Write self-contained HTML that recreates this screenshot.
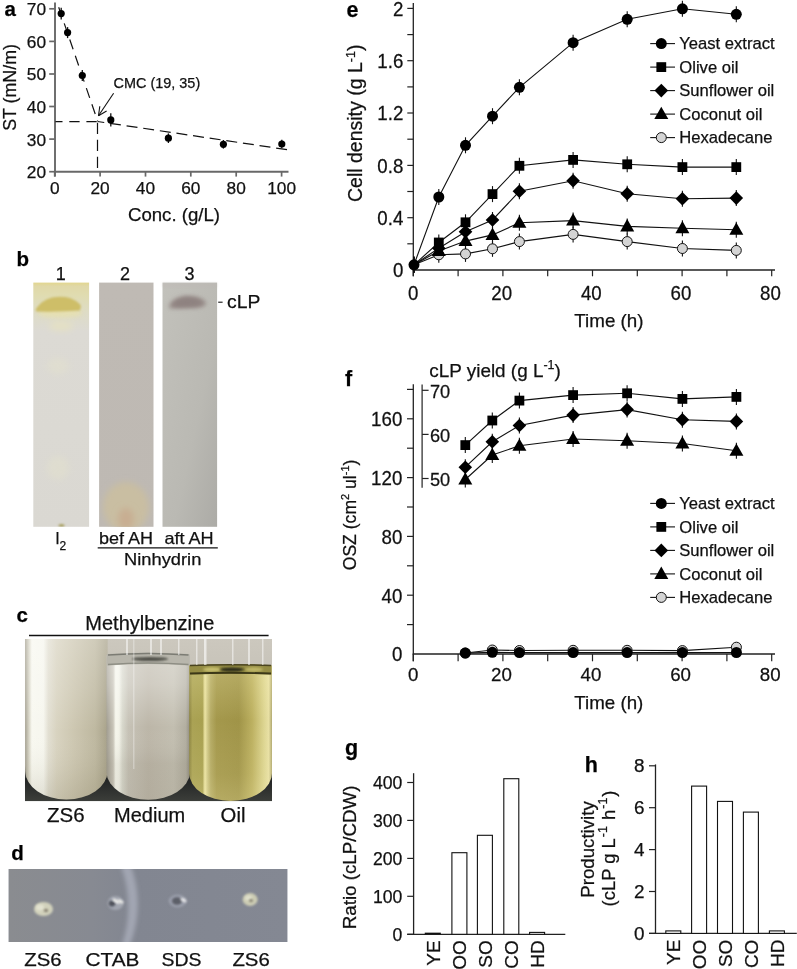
<!DOCTYPE html>
<html><head><meta charset="utf-8"><style>
html,body{margin:0;padding:0;background:#fff;}
svg{display:block;will-change:transform;}
text{font-family:"Liberation Sans", sans-serif;stroke:#111;stroke-width:0.25px;}
</style></head><body>
<svg width="797" height="969" viewBox="0 0 797 969" font-family='"Liberation Sans", sans-serif'>
<defs>
<linearGradient id="s1" x1="0" y1="0" x2="0" y2="1">
 <stop offset="0" stop-color="#e2d68e"/><stop offset="0.015" stop-color="#e0d8a8"/><stop offset="0.05" stop-color="#e0dcb0"/>
 <stop offset="0.12" stop-color="#dedcc6"/><stop offset="0.2" stop-color="#dcdad4"/><stop offset="1" stop-color="#dad8d2"/>
</linearGradient>
<linearGradient id="s2" x1="0" y1="0" x2="0" y2="1">
 <stop offset="0" stop-color="#bfbab4"/><stop offset="1" stop-color="#beb9b3"/>
</linearGradient>
<linearGradient id="s3" x1="0" y1="0" x2="1" y2="1">
 <stop offset="0" stop-color="#c2c1bb"/><stop offset="0.6" stop-color="#bab9b3"/><stop offset="1" stop-color="#acaba6"/>
</linearGradient>
<filter id="bl3" x="-50%" y="-50%" width="200%" height="200%"><feGaussianBlur stdDeviation="3"/></filter>
<filter id="bl6" x="-50%" y="-50%" width="200%" height="200%"><feGaussianBlur stdDeviation="7"/></filter>
<filter id="bl1" x="-50%" y="-50%" width="200%" height="200%"><feGaussianBlur stdDeviation="1.2"/></filter>
<filter id="bl2" x="-50%" y="-50%" width="200%" height="200%"><feGaussianBlur stdDeviation="2"/></filter>
<clipPath id="s2clip"><rect x="99.1" y="282.6" width="54.4" height="244.2"/></clipPath>
<clipPath id="s1clip"><rect x="33.3" y="282.6" width="55.8" height="244.2"/></clipPath>

<linearGradient id="tube1" x1="0" y1="0" x2="1" y2="0">
 <stop offset="0" stop-color="#a8a494"/><stop offset="0.05" stop-color="#dcdacc"/><stop offset="0.08" stop-color="#f8f8f0"/>
 <stop offset="0.22" stop-color="#f6f6ee"/><stop offset="0.28" stop-color="#e2dfd2"/><stop offset="0.38" stop-color="#d8d3c0"/>
 <stop offset="0.6" stop-color="#ccc6b0"/><stop offset="0.85" stop-color="#beb8a0"/><stop offset="1" stop-color="#a8a28a"/>
</linearGradient>
<linearGradient id="t1v" x1="0" y1="0" x2="0" y2="1">
 <stop offset="0" stop-color="#ffffff" stop-opacity="0.3"/><stop offset="0.35" stop-color="#ffffff" stop-opacity="0.15"/><stop offset="0.6" stop-color="#ffffff" stop-opacity="0"/>
 <stop offset="0.85" stop-color="#605838" stop-opacity="0.06"/><stop offset="1" stop-color="#605838" stop-opacity="0.15"/>
</linearGradient>
<linearGradient id="tube2" x1="0" y1="0" x2="1" y2="0">
 <stop offset="0" stop-color="#a09c90"/><stop offset="0.08" stop-color="#c8c4b8"/><stop offset="0.11" stop-color="#f6f6ec"/>
 <stop offset="0.15" stop-color="#f2f2e8"/><stop offset="0.19" stop-color="#d8d8cc"/><stop offset="0.26" stop-color="#c6c2b6"/>
 <stop offset="0.5" stop-color="#bcb6a8"/><stop offset="0.8" stop-color="#c2beb0"/><stop offset="0.95" stop-color="#b2aea0"/><stop offset="1" stop-color="#908c80"/>
</linearGradient>
<linearGradient id="tube3" x1="0" y1="0" x2="1" y2="0">
 <stop offset="0" stop-color="#8c8440"/><stop offset="0.04" stop-color="#aaa254"/><stop offset="0.16" stop-color="#a8a050"/>
 <stop offset="0.19" stop-color="#ece4a4"/><stop offset="0.22" stop-color="#d0c888"/><stop offset="0.26" stop-color="#b4aa64"/>
 <stop offset="0.33" stop-color="#a4984c"/><stop offset="0.6" stop-color="#a09448"/><stop offset="0.76" stop-color="#bcb060"/>
 <stop offset="0.9" stop-color="#dcd490"/><stop offset="0.96" stop-color="#e8e0a4"/><stop offset="1" stop-color="#b0a870"/>
</linearGradient>
<linearGradient id="tubeshade" x1="0" y1="0" x2="0" y2="1">
 <stop offset="0" stop-color="#605838" stop-opacity="0"/><stop offset="0.7" stop-color="#605838" stop-opacity="0.04"/><stop offset="1" stop-color="#605838" stop-opacity="0.22"/>
</linearGradient>
<linearGradient id="t2v" x1="0" y1="0" x2="0" y2="1">
 <stop offset="0" stop-color="#ffffff" stop-opacity="0.4"/><stop offset="0.2" stop-color="#ffffff" stop-opacity="0.3"/><stop offset="0.5" stop-color="#ffffff" stop-opacity="0"/>
 <stop offset="0.75" stop-color="#605840" stop-opacity="0.08"/><stop offset="1" stop-color="#605840" stop-opacity="0.1"/>
</linearGradient>
<linearGradient id="t3v" x1="0" y1="0" x2="0" y2="1">
 <stop offset="0" stop-color="#fff8c0" stop-opacity="0.25"/><stop offset="0.4" stop-color="#fff8c0" stop-opacity="0"/>
 <stop offset="0.8" stop-color="#fff8c0" stop-opacity="0.08"/><stop offset="1" stop-color="#fff8c0" stop-opacity="0.2"/>
</linearGradient>
<linearGradient id="cbg" x1="0" y1="0" x2="0" y2="1">
 <stop offset="0" stop-color="#ccc8be"/><stop offset="0.78" stop-color="#b8b4aa"/><stop offset="0.86" stop-color="#222424"/><stop offset="1" stop-color="#3c3e3a"/>
</linearGradient>
<clipPath id="cclip"><rect x="24.9" y="639.0" width="247.1" height="162.3"/></clipPath>
<linearGradient id="dgrad" x1="0" y1="0" x2="1" y2="0">
 <stop offset="0" stop-color="#8a8c90"/><stop offset="0.3" stop-color="#878a92"/><stop offset="0.45" stop-color="#828691"/><stop offset="1" stop-color="#848893"/>
</linearGradient>
<clipPath id="dclip"><rect x="8.5" y="869.0" width="279.0" height="73.0"/></clipPath>
</defs>
<text transform="translate(4.50 16.30)" font-size="20.5" text-anchor="start" font-weight="bold" fill="#000" >a</text>
<line x1="55.0" y1="2.5" x2="55.0" y2="176.5" stroke="#686868" stroke-width="1.9" />
<line x1="54.0" y1="171.7" x2="288.5" y2="171.7" stroke="#686868" stroke-width="1.9" />
<line x1="49.2" y1="171.7" x2="54.7" y2="171.7" stroke="#686868" stroke-width="1.7" />
<text transform="translate(46.00 178.10)" font-size="17.3" text-anchor="end" fill="#111" >20</text>
<line x1="49.2" y1="139.1" x2="54.7" y2="139.1" stroke="#686868" stroke-width="1.7" />
<text transform="translate(46.00 145.52)" font-size="17.3" text-anchor="end" fill="#111" >30</text>
<line x1="49.2" y1="106.5" x2="54.7" y2="106.5" stroke="#686868" stroke-width="1.7" />
<text transform="translate(46.00 112.94)" font-size="17.3" text-anchor="end" fill="#111" >40</text>
<line x1="49.2" y1="74.0" x2="54.7" y2="74.0" stroke="#686868" stroke-width="1.7" />
<text transform="translate(46.00 80.36)" font-size="17.3" text-anchor="end" fill="#111" >50</text>
<line x1="49.2" y1="41.4" x2="54.7" y2="41.4" stroke="#686868" stroke-width="1.7" />
<text transform="translate(46.00 47.78)" font-size="17.3" text-anchor="end" fill="#111" >60</text>
<line x1="49.2" y1="8.8" x2="54.7" y2="8.8" stroke="#686868" stroke-width="1.7" />
<text transform="translate(46.00 15.20)" font-size="17.3" text-anchor="end" fill="#111" >70</text>
<line x1="54.7" y1="171.7" x2="54.7" y2="176.6" stroke="#686868" stroke-width="1.7" />
<text transform="translate(54.70 194.30)" font-size="17.3" text-anchor="middle" fill="#111" >0</text>
<line x1="100.1" y1="171.7" x2="100.1" y2="176.6" stroke="#686868" stroke-width="1.7" />
<text transform="translate(100.08 194.30)" font-size="17.3" text-anchor="middle" fill="#111" >20</text>
<line x1="145.5" y1="171.7" x2="145.5" y2="176.6" stroke="#686868" stroke-width="1.7" />
<text transform="translate(145.46 194.30)" font-size="17.3" text-anchor="middle" fill="#111" >40</text>
<line x1="190.8" y1="171.7" x2="190.8" y2="176.6" stroke="#686868" stroke-width="1.7" />
<text transform="translate(190.84 194.30)" font-size="17.3" text-anchor="middle" fill="#111" >60</text>
<line x1="236.2" y1="171.7" x2="236.2" y2="176.6" stroke="#686868" stroke-width="1.7" />
<text transform="translate(236.22 194.30)" font-size="17.3" text-anchor="middle" fill="#111" >80</text>
<line x1="281.6" y1="171.7" x2="281.6" y2="176.6" stroke="#686868" stroke-width="1.7" />
<text transform="translate(281.60 194.30)" font-size="17.3" text-anchor="middle" fill="#111" >100</text>
<text transform="translate(128.00 220.50)" font-size="18.3" text-anchor="start" textLength="92.0" lengthAdjust="spacingAndGlyphs" fill="#111" >Conc. (g/L)</text>
<text transform="translate(15.50 130.80) rotate(-90)" font-size="18.3" text-anchor="start" textLength="86.7" lengthAdjust="spacingAndGlyphs" fill="#111" >ST (mN/m)</text>
<line x1="55.4" y1="121.6" x2="97.6" y2="121.6" stroke="#111" stroke-width="1.2" stroke-dasharray="10.3,6.8" stroke-dashoffset="3.2"/>
<line x1="97.5" y1="122.8" x2="97.5" y2="171.0" stroke="#111" stroke-width="1.2" stroke-dasharray="11.2,5.8"/>
<line x1="58.7" y1="7.2" x2="97.6" y2="121.0" stroke="#111" stroke-width="1.2" stroke-dasharray="10.3,6.8" stroke-dashoffset="0"/>
<line x1="97.6" y1="121.5" x2="288.0" y2="149.8" stroke="#111" stroke-width="1.2" stroke-dasharray="11,5.8" stroke-dashoffset="4.3"/>
<line x1="113.6" y1="93.3" x2="98.5" y2="115.8" stroke="#111" stroke-width="1.1" />
<line x1="98.5" y1="115.8" x2="99.8" y2="106.3" stroke="#111" stroke-width="1.1" />
<line x1="98.5" y1="115.8" x2="106.6" y2="111.1" stroke="#111" stroke-width="1.1" />
<text transform="translate(113.60 87.90)" font-size="14.0" text-anchor="start" textLength="86.6" lengthAdjust="spacingAndGlyphs" fill="#111" >CMC (19, 35)</text>
<line x1="61.2" y1="7.8" x2="61.2" y2="19.4" stroke="#111" stroke-width="1.3" />
<circle cx="61.2" cy="13.6" r="3.6" fill="#000"/>
<line x1="67.6" y1="27.1" x2="67.6" y2="38.1" stroke="#111" stroke-width="1.3" />
<circle cx="67.6" cy="32.6" r="3.6" fill="#000"/>
<line x1="82.3" y1="70.0" x2="82.3" y2="81.0" stroke="#111" stroke-width="1.3" />
<circle cx="82.3" cy="75.5" r="3.6" fill="#000"/>
<line x1="110.8" y1="113.2" x2="110.8" y2="126.6" stroke="#111" stroke-width="1.3" />
<circle cx="110.8" cy="119.9" r="3.6" fill="#000"/>
<line x1="168.4" y1="133.4" x2="168.4" y2="143.0" stroke="#111" stroke-width="1.3" />
<circle cx="168.4" cy="138.2" r="3.6" fill="#000"/>
<line x1="223.4" y1="140.0" x2="223.4" y2="148.6" stroke="#111" stroke-width="1.3" />
<circle cx="223.4" cy="144.3" r="3.6" fill="#000"/>
<line x1="281.8" y1="139.7" x2="281.8" y2="148.3" stroke="#111" stroke-width="1.3" />
<circle cx="281.8" cy="144.0" r="3.6" fill="#000"/>
<text transform="translate(16.50 266.40)" font-size="20.5" text-anchor="start" font-weight="bold" fill="#000" >b</text>
<text transform="translate(60.70 279.80)" font-size="18.0" text-anchor="middle" fill="#111" >1</text>
<text transform="translate(125.10 279.80)" font-size="18.0" text-anchor="middle" fill="#111" >2</text>
<text transform="translate(189.60 279.80)" font-size="18.0" text-anchor="middle" fill="#111" >3</text>
<rect x="33.3" y="282.6" width="55.8" height="244.2" fill="url(#s1)"/>
<rect x="99.1" y="282.6" width="54.4" height="244.2" fill="url(#s2)"/>
<rect x="162.5" y="282.6" width="54.6" height="244.2" fill="url(#s3)"/>
<g clip-path="url(#s1clip)">
<ellipse cx="60" cy="313" rx="22" ry="5" fill="#e6e0b0" filter="url(#bl2)" opacity="0.9"/>
<path d="M35.7,309 Q42,300 52,297.5 Q62,296 70,298 Q78,301 81,306 L80,310.5 Q60,312 36,311.5 Z" fill="#cebe68" filter="url(#bl1)"/>
<ellipse cx="58" cy="366" rx="11" ry="8" fill="#e4e2cc" filter="url(#bl3)" opacity="0.45"/>
<ellipse cx="58" cy="468" rx="11" ry="12" fill="#e4e2cc" filter="url(#bl3)" opacity="0.45"/>
<ellipse cx="61" cy="326" rx="12" ry="5" fill="#e4e0c4" filter="url(#bl3)"/>
<ellipse cx="61.5" cy="525.5" rx="3" ry="1.5" fill="#a8a060" filter="url(#bl1)"/>
</g>
<g clip-path="url(#s2clip)">
<ellipse cx="126" cy="507" rx="23" ry="25" fill="#c9bea2" filter="url(#bl3)"/>
<ellipse cx="126" cy="519" rx="8" ry="11" fill="#c8ae92" filter="url(#bl3)"/>
</g>
<path d="M169,306.5 Q171,298 186,296 Q201,295.5 206.5,303 Q205,307.5 194,308 L174,308.5 Q169,308.5 169,306.5 Z" fill="#958986" filter="url(#bl2)"/>
<path d="M173,305 Q176,299 187,298 Q198,298 202,303 Q198,306 190,306 L178,306.5 Z" fill="#8e8280" filter="url(#bl2)"/>
<rect x="162.5" y="282.6" width="54.6" height="5" fill="#bdb6b4" opacity="0.3" filter="url(#bl1)"/>
<line x1="218.2" y1="302.2" x2="222.6" y2="302.2" stroke="#111" stroke-width="1.1" />
<text transform="translate(227.00 308.00)" font-size="18.4" text-anchor="start" textLength="33.3" lengthAdjust="spacingAndGlyphs" fill="#111" >cLP</text>
<text transform="translate(55.30 543.50)" font-size="16.0" text-anchor="start" fill="#111" >I</text>
<text transform="translate(59.50 550.00)" font-size="12.0" text-anchor="start" fill="#111" >2</text>
<text transform="translate(99.00 543.50)" font-size="16.5" text-anchor="start" textLength="54.0" lengthAdjust="spacingAndGlyphs" fill="#111" >bef AH</text>
<text transform="translate(164.40 543.50)" font-size="16.5" text-anchor="start" textLength="49.2" lengthAdjust="spacingAndGlyphs" fill="#111" >aft AH</text>
<line x1="97.7" y1="547.8" x2="217.8" y2="547.8" stroke="#111" stroke-width="1.2" />
<text transform="translate(124.10 564.60)" font-size="16.5" text-anchor="start" textLength="77.2" lengthAdjust="spacingAndGlyphs" fill="#111" >Ninhydrin</text>
<text transform="translate(16.50 622.00)" font-size="20.5" text-anchor="start" font-weight="bold" fill="#000" >c</text>
<text transform="translate(85.30 629.60)" font-size="19.3" text-anchor="start" textLength="129.0" lengthAdjust="spacingAndGlyphs" fill="#111" >Methylbenzine</text>
<line x1="29.0" y1="635.5" x2="268.6" y2="635.5" stroke="#111" stroke-width="1.3" />
<g clip-path="url(#cclip)">
<rect x="24.9" y="639.0" width="247.1" height="162.3" fill="url(#cbg)"/>
<path d="M25.3,630 L107.5,630 L107.5,771 A41.1,28.5 0 0 1 25.3,771 Z" fill="url(#tube1)"/>
<path d="M25.3,630 L107.5,630 L107.5,771 A41.1,28.5 0 0 1 25.3,771 Z" fill="url(#t1v)"/>
<path d="M106.5,655 L190,655 L190,773 A41.8,28.0 0 0 1 106.5,773 Z" fill="url(#tube2)"/>
<path d="M106.5,655 L190,655 L190,773 A41.8,28.0 0 0 1 106.5,773 Z" fill="url(#t2v)"/>
<path d="M107,654 Q148,651 189.5,654 L189.5,665.5 Q148,662.5 107,665.5 Z" fill="#b8b6ac"/>
<path d="M108,655 Q148,652 188.5,655" fill="none" stroke="#7c7c74" stroke-width="1.6"/>
<ellipse cx="150" cy="659" rx="18" ry="2" fill="#505048" filter="url(#bl1)"/>
<path d="M108,664.5 Q148,661.5 188.5,664.5" fill="none" stroke="#8e8e84" stroke-width="1.4"/>
<path d="M189.2,666 L272,666 L272,773 A41.4,28.0 0 0 1 189.2,773 Z" fill="url(#tube3)"/>
<path d="M189.2,666 L272,666 L272,773 A41.4,28.0 0 0 1 189.2,773 Z" fill="url(#t3v)"/>
<path d="M189.5,665 Q230,663.5 271.5,665 L271.5,674.5 Q230,673 189.5,674.5 Z" fill="#948c44"/>
<ellipse cx="212" cy="669.5" rx="9" ry="2.2" fill="#c8c070" filter="url(#bl1)"/>
<ellipse cx="254" cy="669.5" rx="9" ry="2.2" fill="#c0b868" filter="url(#bl1)"/>
<path d="M190,665.5 Q230,664 271,665.5" fill="none" stroke="#4a4420" stroke-width="1.5"/>
<path d="M190,673.5 Q230,672 271,673.5" fill="none" stroke="#3c3818" stroke-width="1.8"/>
<ellipse cx="232" cy="669.5" rx="12" ry="2" fill="#2c2a18" filter="url(#bl1)"/>
<rect x="133" y="639" width="1.5" height="130" fill="#ffffff" opacity="0.3"/>
<rect x="126" y="639" width="2" height="16" fill="#ffffff" opacity="0.5"/>
<rect x="150" y="639" width="2" height="16" fill="#ffffff" opacity="0.5"/>
<rect x="160" y="639" width="2" height="16" fill="#ffffff" opacity="0.5"/>
<rect x="178" y="639" width="1.5" height="16" fill="#ffffff" opacity="0.5"/>
<rect x="196" y="639" width="1.5" height="26" fill="#ffffff" opacity="0.5"/>
<rect x="204" y="639" width="2.5" height="26" fill="#ffffff" opacity="0.6"/>
<rect x="232" y="639" width="1.5" height="26" fill="#ffffff" opacity="0.5"/>
<rect x="248" y="639" width="2" height="26" fill="#ffffff" opacity="0.5"/>
<rect x="262" y="639" width="1.5" height="26" fill="#ffffff" opacity="0.5"/>
</g>
<text transform="translate(47.00 822.20)" font-size="19.8" text-anchor="start" textLength="37.6" lengthAdjust="spacingAndGlyphs" fill="#111" >ZS6</text>
<text transform="translate(114.00 822.20)" font-size="19.8" text-anchor="start" textLength="71.2" lengthAdjust="spacingAndGlyphs" fill="#111" >Medium</text>
<text transform="translate(220.60 822.20)" font-size="19.8" text-anchor="start" textLength="24.8" lengthAdjust="spacingAndGlyphs" fill="#111" >Oil</text>
<text transform="translate(11.30 859.80)" font-size="20.5" text-anchor="start" font-weight="bold" fill="#000" >d</text>
<g clip-path="url(#dclip)">
<rect x="8.5" y="869.0" width="279.0" height="73.0" fill="#7f8395"/>
<rect x="8.5" y="869.0" width="279.0" height="73.0" fill="url(#dgrad)"/>
<path d="M121,866 Q135,905 122,945 L130,945 Q145,905 131,866 Z" fill="#a2a6b2" filter="url(#bl2)"/>
<ellipse cx="43.5" cy="909" rx="9.5" ry="7" fill="#d2d2bc" filter="url(#bl1)"/>
<ellipse cx="40" cy="907.5" rx="4" ry="3" fill="#e2e2d0" filter="url(#bl1)"/>
<ellipse cx="46" cy="910.5" rx="2.2" ry="1.8" fill="#8a8474" filter="url(#bl1)"/>
<ellipse cx="115.5" cy="903" rx="8" ry="7" fill="#a2a6b0" filter="url(#bl1)"/>
<ellipse cx="112" cy="903.5" rx="3.2" ry="3" fill="#50525c" filter="url(#bl1)"/>
<ellipse cx="116" cy="901" rx="4" ry="1.5" fill="#f4f4f0" transform="rotate(30 116 901)" filter="url(#bl1)"/>
<ellipse cx="120.5" cy="901.5" rx="3.2" ry="1.4" fill="#eeeeea" transform="rotate(30 120.5 901.5)" filter="url(#bl1)"/>
<ellipse cx="177.6" cy="901" rx="9" ry="6.5" fill="#9a9eaa" filter="url(#bl1)"/>
<ellipse cx="177" cy="901" rx="5" ry="3.8" fill="#5c5e68" filter="url(#bl1)"/>
<ellipse cx="183.5" cy="900" rx="3.2" ry="1.6" fill="#f2f2f2" transform="rotate(30 183.5 900)" filter="url(#bl1)"/>
<ellipse cx="250.1" cy="899.5" rx="7.5" ry="6.5" fill="#ccccb4" filter="url(#bl1)"/>
<ellipse cx="248.5" cy="898" rx="3.5" ry="2.5" fill="#e0e0cc" filter="url(#bl1)"/>
<ellipse cx="251" cy="900.5" rx="2" ry="1.6" fill="#84806e" filter="url(#bl1)"/>
</g>
<text transform="translate(24.30 965.60)" font-size="17.9" text-anchor="start" textLength="37.4" lengthAdjust="spacingAndGlyphs" fill="#111" >ZS6</text>
<text transform="translate(85.50 965.60)" font-size="17.9" text-anchor="start" textLength="53.9" lengthAdjust="spacingAndGlyphs" fill="#111" >CTAB</text>
<text transform="translate(161.60 965.60)" font-size="17.9" text-anchor="start" textLength="40.0" lengthAdjust="spacingAndGlyphs" fill="#111" >SDS</text>
<text transform="translate(232.40 965.60)" font-size="17.9" text-anchor="start" textLength="37.4" lengthAdjust="spacingAndGlyphs" fill="#111" >ZS6</text>
<text transform="translate(346.60 16.60)" font-size="21.5" text-anchor="start" font-weight="bold" fill="#000" >e</text>
<line x1="413.3" y1="3.0" x2="413.3" y2="276.3" stroke="#222" stroke-width="1.3" />
<line x1="412.7" y1="270.0" x2="775.0" y2="270.0" stroke="#222" stroke-width="1.3" />
<text transform="translate(403.30 277.30) scale(1 1.05)" font-size="18.7" text-anchor="end" fill="#111" >0</text>
<line x1="407.3" y1="243.8" x2="413.3" y2="243.8" stroke="#222" stroke-width="1.2" />
<line x1="407.3" y1="217.7" x2="413.3" y2="217.7" stroke="#222" stroke-width="1.2" />
<text transform="translate(403.30 224.98) scale(1 1.05)" font-size="18.7" text-anchor="end" fill="#111" >0.4</text>
<line x1="407.3" y1="191.5" x2="413.3" y2="191.5" stroke="#222" stroke-width="1.2" />
<line x1="407.3" y1="165.4" x2="413.3" y2="165.4" stroke="#222" stroke-width="1.2" />
<text transform="translate(403.30 172.66) scale(1 1.05)" font-size="18.7" text-anchor="end" fill="#111" >0.8</text>
<line x1="407.3" y1="139.2" x2="413.3" y2="139.2" stroke="#222" stroke-width="1.2" />
<line x1="407.3" y1="113.0" x2="413.3" y2="113.0" stroke="#222" stroke-width="1.2" />
<text transform="translate(403.30 120.34) scale(1 1.05)" font-size="18.7" text-anchor="end" fill="#111" >1.2</text>
<line x1="407.3" y1="86.9" x2="413.3" y2="86.9" stroke="#222" stroke-width="1.2" />
<line x1="407.3" y1="60.7" x2="413.3" y2="60.7" stroke="#222" stroke-width="1.2" />
<text transform="translate(403.30 68.02) scale(1 1.05)" font-size="18.7" text-anchor="end" fill="#111" >1.6</text>
<line x1="407.3" y1="34.6" x2="413.3" y2="34.6" stroke="#222" stroke-width="1.2" />
<line x1="407.3" y1="8.4" x2="413.3" y2="8.4" stroke="#222" stroke-width="1.2" />
<text transform="translate(403.30 15.70) scale(1 1.05)" font-size="18.7" text-anchor="end" fill="#111" >2</text>
<line x1="413.3" y1="270.0" x2="413.3" y2="276.3" stroke="#222" stroke-width="1.2" />
<text transform="translate(413.30 300.00) scale(1 1.04)" font-size="18.7" text-anchor="middle" fill="#111" >0</text>
<line x1="458.1" y1="270.0" x2="458.1" y2="276.3" stroke="#222" stroke-width="1.2" />
<line x1="502.9" y1="270.0" x2="502.9" y2="276.3" stroke="#222" stroke-width="1.2" />
<text transform="translate(501.70 300.00) scale(1 1.04)" font-size="18.7" text-anchor="middle" fill="#111" >20</text>
<line x1="547.7" y1="270.0" x2="547.7" y2="276.3" stroke="#222" stroke-width="1.2" />
<line x1="592.5" y1="270.0" x2="592.5" y2="276.3" stroke="#222" stroke-width="1.2" />
<text transform="translate(591.30 300.00) scale(1 1.04)" font-size="18.7" text-anchor="middle" fill="#111" >40</text>
<line x1="637.3" y1="270.0" x2="637.3" y2="276.3" stroke="#222" stroke-width="1.2" />
<line x1="682.1" y1="270.0" x2="682.1" y2="276.3" stroke="#222" stroke-width="1.2" />
<text transform="translate(680.90 300.00) scale(1 1.04)" font-size="18.7" text-anchor="middle" fill="#111" >60</text>
<line x1="726.9" y1="270.0" x2="726.9" y2="276.3" stroke="#222" stroke-width="1.2" />
<line x1="771.7" y1="270.0" x2="771.7" y2="276.3" stroke="#222" stroke-width="1.2" />
<text transform="translate(770.50 300.00) scale(1 1.04)" font-size="18.7" text-anchor="middle" fill="#111" >80</text>
<text transform="translate(574.30 326.90)" font-size="18.6" text-anchor="start" textLength="69.2" lengthAdjust="spacingAndGlyphs" fill="#111" >Time (h)</text>
<text x="362.2" y="202.0" font-size="19.5" transform="rotate(-90 362.2 202.0)" fill="#111">Cell density (g L<tspan font-size="12.5" dy="-7.5">-1</tspan><tspan dy="7.5">)</tspan></text>
<polyline points="414.0,264.8 438.8,254.8 465.5,253.9 492.5,248.8 519.4,241.6 573.1,234.4 627.2,241.6 682.4,248.5 736.3,250.4" fill="none" stroke="#111" stroke-width="1.1"/>
<polyline points="414.0,264.8 438.8,251.0 465.5,241.1 492.5,234.9 519.4,222.8 573.1,220.6 627.2,226.4 682.4,228.3 736.3,229.7" fill="none" stroke="#111" stroke-width="1.1"/>
<polyline points="414.0,264.8 438.8,248.2 465.5,231.8 492.5,220.0 519.4,191.3 573.1,180.8 627.2,193.7 682.4,198.8 736.3,198.1" fill="none" stroke="#111" stroke-width="1.1"/>
<polyline points="414.0,264.8 438.8,242.5 465.5,222.3 492.5,194.1 519.4,165.8 573.1,159.9 627.2,164.3 682.4,167.1 736.3,167.1" fill="none" stroke="#111" stroke-width="1.1"/>
<polyline points="414.0,264.8 438.8,197.0 465.5,145.3 492.5,116.2 519.4,87.3 573.1,42.7 627.2,19.3 682.4,8.8 736.3,14.3" fill="none" stroke="#111" stroke-width="1.1"/>
<line x1="414.0" y1="256.8" x2="414.0" y2="272.8" stroke="#111" stroke-width="1.1" />
<line x1="438.8" y1="246.8" x2="438.8" y2="262.8" stroke="#111" stroke-width="1.1" />
<line x1="465.5" y1="245.9" x2="465.5" y2="261.9" stroke="#111" stroke-width="1.1" />
<line x1="492.5" y1="240.8" x2="492.5" y2="256.8" stroke="#111" stroke-width="1.1" />
<line x1="519.4" y1="233.6" x2="519.4" y2="249.6" stroke="#111" stroke-width="1.1" />
<line x1="573.1" y1="226.4" x2="573.1" y2="242.4" stroke="#111" stroke-width="1.1" />
<line x1="627.2" y1="233.6" x2="627.2" y2="249.6" stroke="#111" stroke-width="1.1" />
<line x1="682.4" y1="240.5" x2="682.4" y2="256.5" stroke="#111" stroke-width="1.1" />
<line x1="736.3" y1="242.4" x2="736.3" y2="258.4" stroke="#111" stroke-width="1.1" />
<line x1="414.0" y1="256.8" x2="414.0" y2="272.8" stroke="#111" stroke-width="1.1" />
<line x1="438.8" y1="243.0" x2="438.8" y2="259.0" stroke="#111" stroke-width="1.1" />
<line x1="465.5" y1="233.1" x2="465.5" y2="249.1" stroke="#111" stroke-width="1.1" />
<line x1="492.5" y1="226.9" x2="492.5" y2="242.9" stroke="#111" stroke-width="1.1" />
<line x1="519.4" y1="214.8" x2="519.4" y2="230.8" stroke="#111" stroke-width="1.1" />
<line x1="573.1" y1="212.6" x2="573.1" y2="228.6" stroke="#111" stroke-width="1.1" />
<line x1="627.2" y1="218.4" x2="627.2" y2="234.4" stroke="#111" stroke-width="1.1" />
<line x1="682.4" y1="220.3" x2="682.4" y2="236.3" stroke="#111" stroke-width="1.1" />
<line x1="736.3" y1="221.7" x2="736.3" y2="237.7" stroke="#111" stroke-width="1.1" />
<line x1="414.0" y1="256.8" x2="414.0" y2="272.8" stroke="#111" stroke-width="1.1" />
<line x1="438.8" y1="240.2" x2="438.8" y2="256.2" stroke="#111" stroke-width="1.1" />
<line x1="465.5" y1="223.8" x2="465.5" y2="239.8" stroke="#111" stroke-width="1.1" />
<line x1="492.5" y1="212.0" x2="492.5" y2="228.0" stroke="#111" stroke-width="1.1" />
<line x1="519.4" y1="183.3" x2="519.4" y2="199.3" stroke="#111" stroke-width="1.1" />
<line x1="573.1" y1="172.8" x2="573.1" y2="188.8" stroke="#111" stroke-width="1.1" />
<line x1="627.2" y1="185.7" x2="627.2" y2="201.7" stroke="#111" stroke-width="1.1" />
<line x1="682.4" y1="190.8" x2="682.4" y2="206.8" stroke="#111" stroke-width="1.1" />
<line x1="736.3" y1="190.1" x2="736.3" y2="206.1" stroke="#111" stroke-width="1.1" />
<line x1="414.0" y1="256.8" x2="414.0" y2="272.8" stroke="#111" stroke-width="1.1" />
<line x1="438.8" y1="234.5" x2="438.8" y2="250.5" stroke="#111" stroke-width="1.1" />
<line x1="465.5" y1="214.3" x2="465.5" y2="230.3" stroke="#111" stroke-width="1.1" />
<line x1="492.5" y1="186.1" x2="492.5" y2="202.1" stroke="#111" stroke-width="1.1" />
<line x1="519.4" y1="157.8" x2="519.4" y2="173.8" stroke="#111" stroke-width="1.1" />
<line x1="573.1" y1="151.9" x2="573.1" y2="167.9" stroke="#111" stroke-width="1.1" />
<line x1="627.2" y1="156.3" x2="627.2" y2="172.3" stroke="#111" stroke-width="1.1" />
<line x1="682.4" y1="159.1" x2="682.4" y2="175.1" stroke="#111" stroke-width="1.1" />
<line x1="736.3" y1="159.1" x2="736.3" y2="175.1" stroke="#111" stroke-width="1.1" />
<line x1="414.0" y1="256.8" x2="414.0" y2="272.8" stroke="#111" stroke-width="1.1" />
<line x1="438.8" y1="189.0" x2="438.8" y2="205.0" stroke="#111" stroke-width="1.1" />
<line x1="465.5" y1="137.3" x2="465.5" y2="153.3" stroke="#111" stroke-width="1.1" />
<line x1="492.5" y1="108.2" x2="492.5" y2="124.2" stroke="#111" stroke-width="1.1" />
<line x1="519.4" y1="79.3" x2="519.4" y2="95.3" stroke="#111" stroke-width="1.1" />
<line x1="573.1" y1="34.7" x2="573.1" y2="50.7" stroke="#111" stroke-width="1.1" />
<line x1="627.2" y1="11.3" x2="627.2" y2="27.3" stroke="#111" stroke-width="1.1" />
<line x1="682.4" y1="0.8" x2="682.4" y2="16.8" stroke="#111" stroke-width="1.1" />
<line x1="736.3" y1="6.3" x2="736.3" y2="22.3" stroke="#111" stroke-width="1.1" />
<circle cx="438.8" cy="254.8" r="5.00" fill="#d4d4d4" stroke="#111" stroke-width="1"/>
<circle cx="465.5" cy="253.9" r="5.00" fill="#d4d4d4" stroke="#111" stroke-width="1"/>
<circle cx="492.5" cy="248.8" r="5.00" fill="#d4d4d4" stroke="#111" stroke-width="1"/>
<circle cx="519.4" cy="241.6" r="5.00" fill="#d4d4d4" stroke="#111" stroke-width="1"/>
<circle cx="573.1" cy="234.4" r="5.00" fill="#d4d4d4" stroke="#111" stroke-width="1"/>
<circle cx="627.2" cy="241.6" r="5.00" fill="#d4d4d4" stroke="#111" stroke-width="1"/>
<circle cx="682.4" cy="248.5" r="5.00" fill="#d4d4d4" stroke="#111" stroke-width="1"/>
<circle cx="736.3" cy="250.4" r="5.00" fill="#d4d4d4" stroke="#111" stroke-width="1"/>
<polygon points="438.8,243.7 445.8,256.0 431.8,256.0" fill="#000"/>
<polygon points="465.5,233.8 472.5,246.1 458.5,246.1" fill="#000"/>
<polygon points="492.5,227.6 499.5,239.9 485.5,239.9" fill="#000"/>
<polygon points="519.4,215.5 526.4,227.8 512.4,227.8" fill="#000"/>
<polygon points="573.1,213.3 580.1,225.6 566.1,225.6" fill="#000"/>
<polygon points="627.2,219.1 634.2,231.4 620.2,231.4" fill="#000"/>
<polygon points="682.4,221.0 689.4,233.3 675.4,233.3" fill="#000"/>
<polygon points="736.3,222.4 743.3,234.7 729.3,234.7" fill="#000"/>
<polygon points="438.8,241.4 445.6,248.2 438.8,255.0 432.0,248.2" fill="#000"/>
<polygon points="465.5,225.0 472.3,231.8 465.5,238.6 458.7,231.8" fill="#000"/>
<polygon points="492.5,213.2 499.3,220.0 492.5,226.8 485.7,220.0" fill="#000"/>
<polygon points="519.4,184.5 526.2,191.3 519.4,198.1 512.6,191.3" fill="#000"/>
<polygon points="573.1,174.0 579.9,180.8 573.1,187.6 566.3,180.8" fill="#000"/>
<polygon points="627.2,186.9 634.0,193.7 627.2,200.5 620.4,193.7" fill="#000"/>
<polygon points="682.4,192.0 689.2,198.8 682.4,205.6 675.6,198.8" fill="#000"/>
<polygon points="736.3,191.3 743.1,198.1 736.3,204.9 729.5,198.1" fill="#000"/>
<rect x="433.9" y="237.6" width="9.8" height="9.8" fill="#000"/>
<rect x="460.6" y="217.4" width="9.8" height="9.8" fill="#000"/>
<rect x="487.6" y="189.2" width="9.8" height="9.8" fill="#000"/>
<rect x="514.5" y="160.9" width="9.8" height="9.8" fill="#000"/>
<rect x="568.2" y="155.0" width="9.8" height="9.8" fill="#000"/>
<rect x="622.3" y="159.4" width="9.8" height="9.8" fill="#000"/>
<rect x="677.5" y="162.2" width="9.8" height="9.8" fill="#000"/>
<rect x="731.4" y="162.2" width="9.8" height="9.8" fill="#000"/>
<circle cx="414.0" cy="264.8" r="5.50" fill="#000"/>
<circle cx="438.8" cy="197.0" r="5.50" fill="#000"/>
<circle cx="465.5" cy="145.3" r="5.50" fill="#000"/>
<circle cx="492.5" cy="116.2" r="5.50" fill="#000"/>
<circle cx="519.4" cy="87.3" r="5.50" fill="#000"/>
<circle cx="573.1" cy="42.7" r="5.50" fill="#000"/>
<circle cx="627.2" cy="19.3" r="5.50" fill="#000"/>
<circle cx="682.4" cy="8.8" r="5.50" fill="#000"/>
<circle cx="736.3" cy="14.3" r="5.50" fill="#000"/>
<line x1="650.2" y1="43.6" x2="675.0" y2="43.6" stroke="#111" stroke-width="1.1" />
<circle cx="661.3" cy="43.6" r="5.50" fill="#000"/>
<text transform="translate(679.30 49.20)" font-size="16.6" text-anchor="start" fill="#111" >Yeast extract</text>
<line x1="650.2" y1="67.1" x2="675.0" y2="67.1" stroke="#111" stroke-width="1.1" />
<rect x="656.4" y="62.2" width="9.8" height="9.8" fill="#000"/>
<text transform="translate(679.30 72.70)" font-size="16.6" text-anchor="start" fill="#111" >Olive oil</text>
<line x1="650.2" y1="90.6" x2="675.0" y2="90.6" stroke="#111" stroke-width="1.1" />
<polygon points="661.3,83.8 668.1,90.6 661.3,97.4 654.5,90.6" fill="#000"/>
<text transform="translate(679.30 96.20)" font-size="16.6" text-anchor="start" fill="#111" >Sunflower oil</text>
<line x1="650.2" y1="114.1" x2="675.0" y2="114.1" stroke="#111" stroke-width="1.1" />
<polygon points="661.3,106.8 668.3,119.1 654.3,119.1" fill="#000"/>
<text transform="translate(679.30 119.70)" font-size="16.6" text-anchor="start" fill="#111" >Coconut oil</text>
<line x1="650.2" y1="137.6" x2="675.0" y2="137.6" stroke="#111" stroke-width="1.1" />
<circle cx="661.3" cy="137.6" r="5.00" fill="#d4d4d4" stroke="#111" stroke-width="1"/>
<text transform="translate(679.30 143.20)" font-size="16.6" text-anchor="start" fill="#111" >Hexadecane</text>
<text transform="translate(345.00 386.00)" font-size="21.5" text-anchor="start" font-weight="bold" fill="#000" >f</text>
<line x1="413.3" y1="384.3" x2="413.3" y2="661.3" stroke="#222" stroke-width="1.3" />
<line x1="412.7" y1="654.0" x2="775.0" y2="654.0" stroke="#222" stroke-width="1.3" />
<text transform="translate(402.30 661.40) scale(1 1.05)" font-size="18.7" text-anchor="end" fill="#111" >0</text>
<line x1="407.0" y1="624.6" x2="413.3" y2="624.6" stroke="#222" stroke-width="1.2" />
<line x1="407.0" y1="595.2" x2="413.3" y2="595.2" stroke="#222" stroke-width="1.2" />
<text transform="translate(402.30 602.60) scale(1 1.05)" font-size="18.7" text-anchor="end" fill="#111" >40</text>
<line x1="407.0" y1="565.8" x2="413.3" y2="565.8" stroke="#222" stroke-width="1.2" />
<line x1="407.0" y1="536.4" x2="413.3" y2="536.4" stroke="#222" stroke-width="1.2" />
<text transform="translate(402.30 543.80) scale(1 1.05)" font-size="18.7" text-anchor="end" fill="#111" >80</text>
<line x1="407.0" y1="507.0" x2="413.3" y2="507.0" stroke="#222" stroke-width="1.2" />
<line x1="407.0" y1="477.6" x2="413.3" y2="477.6" stroke="#222" stroke-width="1.2" />
<text transform="translate(402.30 485.00) scale(1 1.05)" font-size="18.7" text-anchor="end" fill="#111" >120</text>
<line x1="407.0" y1="448.2" x2="413.3" y2="448.2" stroke="#222" stroke-width="1.2" />
<line x1="407.0" y1="418.8" x2="413.3" y2="418.8" stroke="#222" stroke-width="1.2" />
<text transform="translate(402.30 426.20) scale(1 1.05)" font-size="18.7" text-anchor="end" fill="#111" >160</text>
<line x1="407.0" y1="389.4" x2="413.3" y2="389.4" stroke="#222" stroke-width="1.2" />
<line x1="413.3" y1="654.0" x2="413.3" y2="661.3" stroke="#222" stroke-width="1.2" />
<text transform="translate(413.30 681.40) scale(1 1.03)" font-size="18.7" text-anchor="middle" fill="#111" >0</text>
<line x1="458.1" y1="654.0" x2="458.1" y2="661.3" stroke="#222" stroke-width="1.2" />
<line x1="502.9" y1="654.0" x2="502.9" y2="661.3" stroke="#222" stroke-width="1.2" />
<text transform="translate(501.40 681.40) scale(1 1.03)" font-size="18.7" text-anchor="middle" fill="#111" >20</text>
<line x1="547.7" y1="654.0" x2="547.7" y2="661.3" stroke="#222" stroke-width="1.2" />
<line x1="592.5" y1="654.0" x2="592.5" y2="661.3" stroke="#222" stroke-width="1.2" />
<text transform="translate(591.00 681.40) scale(1 1.03)" font-size="18.7" text-anchor="middle" fill="#111" >40</text>
<line x1="637.3" y1="654.0" x2="637.3" y2="661.3" stroke="#222" stroke-width="1.2" />
<line x1="682.1" y1="654.0" x2="682.1" y2="661.3" stroke="#222" stroke-width="1.2" />
<text transform="translate(680.60 681.40) scale(1 1.03)" font-size="18.7" text-anchor="middle" fill="#111" >60</text>
<line x1="726.9" y1="654.0" x2="726.9" y2="661.3" stroke="#222" stroke-width="1.2" />
<line x1="771.7" y1="654.0" x2="771.7" y2="661.3" stroke="#222" stroke-width="1.2" />
<text transform="translate(770.20 681.40) scale(1 1.03)" font-size="18.7" text-anchor="middle" fill="#111" >80</text>
<text transform="translate(574.30 709.10)" font-size="18.6" text-anchor="start" textLength="69.0" lengthAdjust="spacingAndGlyphs" fill="#111" >Time (h)</text>
<text x="355.8" y="570.3" font-size="17.6" transform="rotate(-90 355.8 570.3)" fill="#111">OSZ (cm<tspan font-size="11" dy="-7">2</tspan><tspan dy="7"> ul</tspan><tspan font-size="11" dy="-7">-1</tspan><tspan dy="7">)</tspan></text>
<line x1="422.1" y1="384.4" x2="422.1" y2="487.7" stroke="#222" stroke-width="1.2" />
<line x1="422.1" y1="478.5" x2="428.6" y2="478.5" stroke="#222" stroke-width="1.2" />
<text transform="translate(430.00 485.80) scale(1 1.03)" font-size="18.2" text-anchor="start" fill="#111" >50</text>
<line x1="422.1" y1="434.4" x2="428.6" y2="434.4" stroke="#222" stroke-width="1.2" />
<text transform="translate(430.00 441.70) scale(1 1.03)" font-size="18.2" text-anchor="start" fill="#111" >60</text>
<line x1="422.1" y1="390.3" x2="428.6" y2="390.3" stroke="#222" stroke-width="1.2" />
<text transform="translate(430.00 397.60) scale(1 1.03)" font-size="18.2" text-anchor="start" fill="#111" >70</text>
<text x="429.3" y="376.5" font-size="18.9" fill="#111">cLP yield (g L<tspan font-size="12.5" dy="-7.5">-1</tspan><tspan dy="7.5">)</tspan></text>
<polyline points="465.3,653.0 492.3,650.0 519.4,650.5 573.1,650.3 627.1,650.3 682.4,650.6 736.4,647.2" fill="none" stroke="#111" stroke-width="1.1"/>
<polyline points="465.3,653.1 492.3,652.3 519.4,652.6 573.1,652.6 627.1,652.6 682.4,652.6 736.4,652.5" fill="none" stroke="#111" stroke-width="1.1"/>
<polyline points="465.3,479.5 492.3,455.0 519.4,445.8 573.1,439.0 627.1,440.8 682.4,443.5 736.4,450.8" fill="none" stroke="#111" stroke-width="1.1"/>
<polyline points="465.3,467.2 492.3,441.8 519.4,425.5 573.1,415.1 627.1,409.6 682.4,419.7 736.4,421.4" fill="none" stroke="#111" stroke-width="1.1"/>
<polyline points="465.3,445.1 492.3,420.5 519.4,400.6 573.1,395.1 627.1,393.3 682.4,398.9 736.4,396.9" fill="none" stroke="#111" stroke-width="1.1"/>
<line x1="465.3" y1="471.5" x2="465.3" y2="487.5" stroke="#111" stroke-width="1.1" />
<line x1="492.3" y1="447.0" x2="492.3" y2="463.0" stroke="#111" stroke-width="1.1" />
<line x1="519.4" y1="437.8" x2="519.4" y2="453.8" stroke="#111" stroke-width="1.1" />
<line x1="573.1" y1="431.0" x2="573.1" y2="447.0" stroke="#111" stroke-width="1.1" />
<line x1="627.1" y1="432.8" x2="627.1" y2="448.8" stroke="#111" stroke-width="1.1" />
<line x1="682.4" y1="435.5" x2="682.4" y2="451.5" stroke="#111" stroke-width="1.1" />
<line x1="736.4" y1="442.8" x2="736.4" y2="458.8" stroke="#111" stroke-width="1.1" />
<line x1="465.3" y1="459.2" x2="465.3" y2="475.2" stroke="#111" stroke-width="1.1" />
<line x1="492.3" y1="433.8" x2="492.3" y2="449.8" stroke="#111" stroke-width="1.1" />
<line x1="519.4" y1="417.5" x2="519.4" y2="433.5" stroke="#111" stroke-width="1.1" />
<line x1="573.1" y1="407.1" x2="573.1" y2="423.1" stroke="#111" stroke-width="1.1" />
<line x1="627.1" y1="401.6" x2="627.1" y2="417.6" stroke="#111" stroke-width="1.1" />
<line x1="682.4" y1="411.7" x2="682.4" y2="427.7" stroke="#111" stroke-width="1.1" />
<line x1="736.4" y1="413.4" x2="736.4" y2="429.4" stroke="#111" stroke-width="1.1" />
<line x1="465.3" y1="437.1" x2="465.3" y2="453.1" stroke="#111" stroke-width="1.1" />
<line x1="492.3" y1="412.5" x2="492.3" y2="428.5" stroke="#111" stroke-width="1.1" />
<line x1="519.4" y1="392.6" x2="519.4" y2="408.6" stroke="#111" stroke-width="1.1" />
<line x1="573.1" y1="387.1" x2="573.1" y2="403.1" stroke="#111" stroke-width="1.1" />
<line x1="627.1" y1="385.3" x2="627.1" y2="401.3" stroke="#111" stroke-width="1.1" />
<line x1="682.4" y1="390.9" x2="682.4" y2="406.9" stroke="#111" stroke-width="1.1" />
<line x1="736.4" y1="388.9" x2="736.4" y2="404.9" stroke="#111" stroke-width="1.1" />
<circle cx="465.3" cy="653.0" r="5.00" fill="#d4d4d4" stroke="#111" stroke-width="1"/>
<circle cx="492.3" cy="650.0" r="5.00" fill="#d4d4d4" stroke="#111" stroke-width="1"/>
<circle cx="519.4" cy="650.5" r="5.00" fill="#d4d4d4" stroke="#111" stroke-width="1"/>
<circle cx="573.1" cy="650.3" r="5.00" fill="#d4d4d4" stroke="#111" stroke-width="1"/>
<circle cx="627.1" cy="650.3" r="5.00" fill="#d4d4d4" stroke="#111" stroke-width="1"/>
<circle cx="682.4" cy="650.6" r="5.00" fill="#d4d4d4" stroke="#111" stroke-width="1"/>
<circle cx="736.4" cy="647.2" r="5.00" fill="#d4d4d4" stroke="#111" stroke-width="1"/>
<circle cx="465.3" cy="653.1" r="5.50" fill="#000"/>
<circle cx="492.3" cy="652.3" r="5.50" fill="#000"/>
<circle cx="519.4" cy="652.6" r="5.50" fill="#000"/>
<circle cx="573.1" cy="652.6" r="5.50" fill="#000"/>
<circle cx="627.1" cy="652.6" r="5.50" fill="#000"/>
<circle cx="682.4" cy="652.6" r="5.50" fill="#000"/>
<circle cx="736.4" cy="652.5" r="5.50" fill="#000"/>
<polygon points="465.3,472.2 472.3,484.5 458.3,484.5" fill="#000"/>
<polygon points="492.3,447.7 499.3,460.0 485.3,460.0" fill="#000"/>
<polygon points="519.4,438.5 526.4,450.8 512.4,450.8" fill="#000"/>
<polygon points="573.1,431.7 580.1,444.0 566.1,444.0" fill="#000"/>
<polygon points="627.1,433.5 634.1,445.8 620.1,445.8" fill="#000"/>
<polygon points="682.4,436.2 689.4,448.5 675.4,448.5" fill="#000"/>
<polygon points="736.4,443.5 743.4,455.8 729.4,455.8" fill="#000"/>
<polygon points="465.3,460.4 472.1,467.2 465.3,474.0 458.5,467.2" fill="#000"/>
<polygon points="492.3,435.0 499.1,441.8 492.3,448.6 485.5,441.8" fill="#000"/>
<polygon points="519.4,418.7 526.2,425.5 519.4,432.3 512.6,425.5" fill="#000"/>
<polygon points="573.1,408.3 579.9,415.1 573.1,421.9 566.3,415.1" fill="#000"/>
<polygon points="627.1,402.8 633.9,409.6 627.1,416.4 620.3,409.6" fill="#000"/>
<polygon points="682.4,412.9 689.2,419.7 682.4,426.5 675.6,419.7" fill="#000"/>
<polygon points="736.4,414.6 743.2,421.4 736.4,428.2 729.6,421.4" fill="#000"/>
<rect x="460.4" y="440.2" width="9.8" height="9.8" fill="#000"/>
<rect x="487.4" y="415.6" width="9.8" height="9.8" fill="#000"/>
<rect x="514.5" y="395.7" width="9.8" height="9.8" fill="#000"/>
<rect x="568.2" y="390.2" width="9.8" height="9.8" fill="#000"/>
<rect x="622.2" y="388.4" width="9.8" height="9.8" fill="#000"/>
<rect x="677.5" y="394.0" width="9.8" height="9.8" fill="#000"/>
<rect x="731.5" y="392.0" width="9.8" height="9.8" fill="#000"/>
<line x1="650.2" y1="503.4" x2="675.0" y2="503.4" stroke="#111" stroke-width="1.1" />
<circle cx="661.3" cy="503.4" r="5.50" fill="#000"/>
<text transform="translate(679.30 509.00)" font-size="16.6" text-anchor="start" fill="#111" >Yeast extract</text>
<line x1="650.2" y1="526.9" x2="675.0" y2="526.9" stroke="#111" stroke-width="1.1" />
<rect x="656.4" y="522.0" width="9.8" height="9.8" fill="#000"/>
<text transform="translate(679.30 532.50)" font-size="16.6" text-anchor="start" fill="#111" >Olive oil</text>
<line x1="650.2" y1="550.4" x2="675.0" y2="550.4" stroke="#111" stroke-width="1.1" />
<polygon points="661.3,543.6 668.1,550.4 661.3,557.2 654.5,550.4" fill="#000"/>
<text transform="translate(679.30 556.00)" font-size="16.6" text-anchor="start" fill="#111" >Sunflower oil</text>
<line x1="650.2" y1="573.9" x2="675.0" y2="573.9" stroke="#111" stroke-width="1.1" />
<polygon points="661.3,566.6 668.3,578.9 654.3,578.9" fill="#000"/>
<text transform="translate(679.30 579.50)" font-size="16.6" text-anchor="start" fill="#111" >Coconut oil</text>
<line x1="650.2" y1="597.4" x2="675.0" y2="597.4" stroke="#111" stroke-width="1.1" />
<circle cx="661.3" cy="597.4" r="5.00" fill="#d4d4d4" stroke="#111" stroke-width="1"/>
<text transform="translate(679.30 603.00)" font-size="16.6" text-anchor="start" fill="#111" >Hexadecane</text>
<text transform="translate(345.00 754.80)" font-size="21.5" text-anchor="start" font-weight="bold" fill="#000" >g</text>
<line x1="413.6" y1="773.2" x2="413.6" y2="934.3" stroke="#222" stroke-width="1.3" />
<line x1="407.2" y1="934.3" x2="565.3" y2="934.3" stroke="#222" stroke-width="1.3" />
<line x1="407.2" y1="934.3" x2="413.6" y2="934.3" stroke="#222" stroke-width="1.2" />
<text transform="translate(402.30 940.60)" font-size="17.6" text-anchor="end" fill="#111" >0</text>
<line x1="407.2" y1="896.3" x2="413.6" y2="896.3" stroke="#222" stroke-width="1.2" />
<text transform="translate(402.30 902.65)" font-size="17.6" text-anchor="end" fill="#111" >100</text>
<line x1="407.2" y1="858.4" x2="413.6" y2="858.4" stroke="#222" stroke-width="1.2" />
<text transform="translate(402.30 864.70)" font-size="17.6" text-anchor="end" fill="#111" >200</text>
<line x1="407.2" y1="820.4" x2="413.6" y2="820.4" stroke="#222" stroke-width="1.2" />
<text transform="translate(402.30 826.75)" font-size="17.6" text-anchor="end" fill="#111" >300</text>
<line x1="407.2" y1="782.5" x2="413.6" y2="782.5" stroke="#222" stroke-width="1.2" />
<text transform="translate(402.30 788.80)" font-size="17.6" text-anchor="end" fill="#111" >400</text>
<text x="356.0" y="929.2" font-size="18" transform="rotate(-90 356.0 929.2)" fill="#111" textLength="143.6" lengthAdjust="spacingAndGlyphs">Ratio (cLP/CDW)</text>
<rect x="425.3" y="933.2" width="15.0" height="1.1" fill="#fff" stroke="#111" stroke-width="1.1"/>
<text transform="translate(439.70 940.30) rotate(-90)" font-size="19.0" text-anchor="end" fill="#111" >YE</text>
<rect x="451.9" y="852.7" width="15.0" height="81.6" fill="#fff" stroke="#111" stroke-width="1.1"/>
<text transform="translate(466.30 940.30) rotate(-90)" font-size="19.0" text-anchor="end" fill="#111" >OO</text>
<rect x="477.4" y="835.3" width="15.0" height="99.0" fill="#fff" stroke="#111" stroke-width="1.1"/>
<text transform="translate(491.80 940.30) rotate(-90)" font-size="19.0" text-anchor="end" fill="#111" >SO</text>
<rect x="503.8" y="778.7" width="15.0" height="155.6" fill="#fff" stroke="#111" stroke-width="1.1"/>
<text transform="translate(518.20 940.30) rotate(-90)" font-size="19.0" text-anchor="end" fill="#111" >CO</text>
<rect x="529.6" y="932.4" width="15.0" height="1.9" fill="#fff" stroke="#111" stroke-width="1.1"/>
<text transform="translate(544.00 940.30) rotate(-90)" font-size="19.0" text-anchor="end" fill="#111" >HD</text>
<text transform="translate(584.70 771.50)" font-size="21.5" text-anchor="start" font-weight="bold" fill="#000" >h</text>
<line x1="655.5" y1="764.4" x2="655.5" y2="933.4" stroke="#222" stroke-width="1.3" />
<line x1="649.0" y1="933.4" x2="796.8" y2="933.4" stroke="#222" stroke-width="1.3" />
<line x1="649.0" y1="933.4" x2="655.5" y2="933.4" stroke="#222" stroke-width="1.2" />
<text transform="translate(644.40 939.80)" font-size="18.9" text-anchor="end" fill="#111" >0</text>
<line x1="649.0" y1="891.5" x2="655.5" y2="891.5" stroke="#222" stroke-width="1.2" />
<text transform="translate(644.40 897.90)" font-size="18.9" text-anchor="end" fill="#111" >2</text>
<line x1="649.0" y1="849.6" x2="655.5" y2="849.6" stroke="#222" stroke-width="1.2" />
<text transform="translate(644.40 856.00)" font-size="18.9" text-anchor="end" fill="#111" >4</text>
<line x1="649.0" y1="807.7" x2="655.5" y2="807.7" stroke="#222" stroke-width="1.2" />
<text transform="translate(644.40 814.10)" font-size="18.9" text-anchor="end" fill="#111" >6</text>
<line x1="649.0" y1="765.8" x2="655.5" y2="765.8" stroke="#222" stroke-width="1.2" />
<text transform="translate(644.40 772.20)" font-size="18.9" text-anchor="end" fill="#111" >8</text>
<text x="593.6" y="897.8" font-size="18.7" transform="rotate(-90 593.6 897.8)" fill="#111">Productivity</text>
<text x="614.8" y="906.4" font-size="18.4" transform="rotate(-90 614.8 906.4)" fill="#111">(cLP g L<tspan font-size="12.5" dy="-7.5" dx="1">-1</tspan><tspan dy="7.5" dx="1"> h</tspan><tspan font-size="12.5" dy="-7.5" dx="1">-1</tspan><tspan dy="7.5" dx="1">)</tspan></text>
<rect x="665.8" y="930.9" width="15.0" height="2.5" fill="#fff" stroke="#111" stroke-width="1.1"/>
<text transform="translate(680.20 939.60) rotate(-90)" font-size="19.0" text-anchor="end" fill="#111" >YE</text>
<rect x="691.6" y="786.1" width="15.0" height="147.3" fill="#fff" stroke="#111" stroke-width="1.1"/>
<text transform="translate(706.00 939.60) rotate(-90)" font-size="19.0" text-anchor="end" fill="#111" >OO</text>
<rect x="717.5" y="801.4" width="15.0" height="132.0" fill="#fff" stroke="#111" stroke-width="1.1"/>
<text transform="translate(731.90 939.60) rotate(-90)" font-size="19.0" text-anchor="end" fill="#111" >SO</text>
<rect x="743.4" y="812.1" width="15.0" height="121.3" fill="#fff" stroke="#111" stroke-width="1.1"/>
<text transform="translate(757.80 939.60) rotate(-90)" font-size="19.0" text-anchor="end" fill="#111" >CO</text>
<rect x="769.4" y="930.9" width="15.0" height="2.5" fill="#fff" stroke="#111" stroke-width="1.1"/>
<text transform="translate(783.80 939.60) rotate(-90)" font-size="19.0" text-anchor="end" fill="#111" >HD</text>
</svg>
</body></html>
